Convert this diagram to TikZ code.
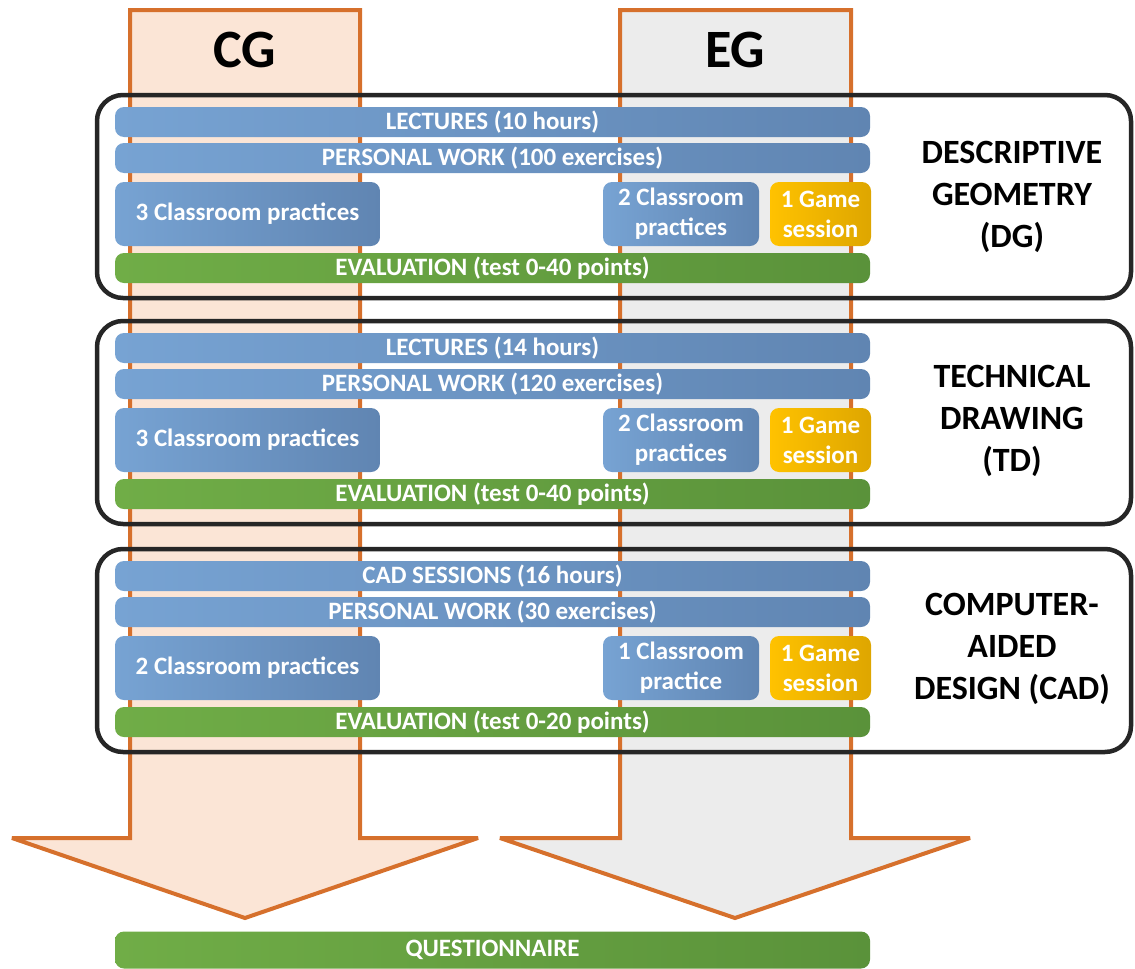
\documentclass[tikz,border=0pt]{standalone}
\usepackage{fontspec}
\setmainfont{Carlito}
\definecolor{blueL}{RGB}{119,163,211}
\definecolor{blueD}{RGB}{96,133,178}
\definecolor{greenL}{RGB}{112,173,71}
\definecolor{greenD}{RGB}{90,146,58}
\definecolor{goldL}{RGB}{255,194,0}
\definecolor{goldD}{RGB}{222,166,0}
\definecolor{flowline}{RGB}{214,112,44}
\definecolor{cgfill}{RGB}{251,229,214}
\definecolor{egfill}{RGB}{236,236,236}
\definecolor{boxline}{RGB}{38,38,38}
\tikzset{
  bar/.style={rounded corners=9pt, minimum width=755pt, minimum height=30pt, inner sep=0pt,
    text=white, font=\bfseries\fontsize{25}{30}\selectfont, left color=blueL, right color=blueD},
  evalbar/.style={bar, left color=greenL, right color=greenD},
  practbox/.style={bar, minimum height=64pt, align=center},
  gamebox/.style={practbox, minimum width=101pt, left color=goldL, right color=goldD},
  group/.style={draw=boxline, line width=4.5pt, rounded corners=26pt},
  grouplabel/.style={font=\bfseries\fontsize{34}{42}\selectfont, align=center},
  flow/.style={draw=flowline, line width=4pt, line join=miter, miter limit=3},
  head/.style={font=\bfseries\fontsize{54}{60}\selectfont}
}
\begin{document}
\begin{tikzpicture}[x=1pt,y=-1pt]
\useasboundingbox (0,0) rectangle (1135,969);
% the two flows
\path[flow,fill=cgfill] (130,10) -- (360,10) -- (360,838) -- (478,838) -- (245,918) -- (12,838) -- (130,838) -- cycle;
\path[flow,fill=egfill] (620,10) -- (851,10) -- (851,838) -- (970,838) -- (735,918) -- (500,838) -- (620,838) -- cycle;
\node[head] (cg) at (245,50) {CG};
\node[head] (eg) at (735,50) {EG};
% subjects
\draw[group] (97,95) rectangle (1131,298);
\draw[group] (97,321) rectangle (1131,524);
\draw[group] (97,549) rectangle (1131,752);
% descriptive geometry
\node[bar] (dg1) at (492.5,122) {LECTURES (10 hours)};
\node[bar] (dg2) at (492.5,158) {PERSONAL WORK (100 exercises)};
\node[practbox,minimum width=265pt] (dg3) at (247.5,214) {3 Classroom practices};
\node[practbox,minimum width=156pt] (dg4) at (681,214) {2 Classroom\\practices};
\node[gamebox] (dg5) at (820.5,214) {1 Game\\session};
\node[evalbar] (dg6) at (492.5,268) {EVALUATION (test 0-40 points)};
\node[grouplabel] (dg) at (1012,197) {DESCRIPTIVE\\GEOMETRY\\(DG)};
% technical drawing
\node[bar] (td1) at (492.5,348) {LECTURES (14 hours)};
\node[bar] (td2) at (492.5,384) {PERSONAL WORK (120 exercises)};
\node[practbox,minimum width=265pt] (td3) at (247.5,440) {3 Classroom practices};
\node[practbox,minimum width=156pt] (td4) at (681,440) {2 Classroom\\practices};
\node[gamebox] (td5) at (820.5,440) {1 Game\\session};
\node[evalbar] (td6) at (492.5,494) {EVALUATION (test 0-40 points)};
\node[grouplabel] (td) at (1012,421) {TECHNICAL\\DRAWING\\(TD)};
% computer-aided design
\node[bar] (cad1) at (492.5,576) {CAD SESSIONS (16 hours)};
\node[bar] (cad2) at (492.5,612) {PERSONAL WORK (30 exercises)};
\node[practbox,minimum width=265pt] (cad3) at (247.5,668) {2 Classroom practices};
\node[practbox,minimum width=156pt] (cad4) at (681,668) {1 Classroom\\practice};
\node[gamebox] (cad5) at (820.5,668) {1 Game\\session};
\node[evalbar] (cad6) at (492.5,722) {EVALUATION (test 0-20 points)};
\node[grouplabel] (cad) at (1012,649) {COMPUTER-\\AIDED\\DESIGN (CAD)};
% end of both flows
\node[evalbar,minimum height=37pt] (quest) at (492.5,950) {QUESTIONNAIRE};
\end{tikzpicture}
\end{document}
